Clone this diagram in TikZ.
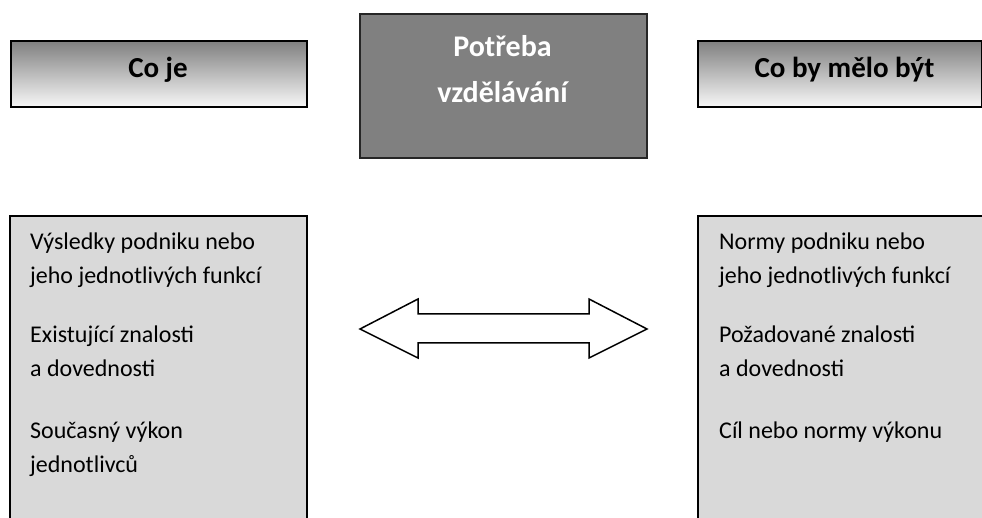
\documentclass[tikz,border=0pt]{standalone}
\usepackage{fontspec}
\setmainfont{Carlito}
\begin{document}
\begin{tikzpicture}[x=1pt,y=1pt,
  hdrbox/.style={draw=black,line width=1.8pt,top color=black!50,middle color=black!22,bottom color=black!3,inner sep=0pt,anchor=north west},
  centerbox/.style={draw=black!85,line width=1.8pt,fill=black!50,inner sep=0pt,anchor=north west},
  lowbox/.style={draw=black,line width=1.8pt,fill=black!15,inner sep=0pt,anchor=north west},
  hdrtext/.style={font=\fontsize{29}{34}\selectfont\bfseries,inner sep=0pt,anchor=base},
  ctrtext/.style={font=\fontsize{30}{34}\selectfont\bfseries,text=white,inner sep=0pt,anchor=base},
  bodytext/.style={font=\fontsize{24}{34}\selectfont,inner sep=0pt,anchor=base west},
  dblarrow/.style={draw=black,line width=1.5pt,fill=white,line join=miter}
]
\useasboundingbox (0,0) rectangle (982,-518);
\clip (0,0) rectangle (982,-518);
% header boxes
\node[hdrbox,minimum width=296pt,minimum height=66pt] (lefthdr) at (10,-40) {};
\node[hdrbox,minimum width=284pt,minimum height=66pt] (righthdr) at (697,-40) {};
\node[centerbox,minimum width=287pt,minimum height=144pt] (need) at (359,-13) {};
\node[hdrtext] (lefthdrtxt) at (158,-78) {Co je};
\node[hdrtext] (righthdrtxt) at (844.5,-78) {Co by mělo být};
\node[ctrtext] (needtxt1) at (502.5,-57) {Potřeba};
\node[ctrtext] (needtxt2) at (502.5,-103) {vzdělávání};
% lower boxes
\node[lowbox,minimum width=297pt,minimum height=330pt] (leftbox) at (9,-215) {};
\node[lowbox,minimum width=300pt,minimum height=330pt] (rightbox) at (697,-215) {};
% left texts
\node[bodytext] (l1a) at (30,-250) {Výsledky podniku nebo};
\node[bodytext] (l1b) at (30,-284) {jeho jednotlivých funkcí};
\node[bodytext] (l2a) at (30,-343) {Existující znalosti};
\node[bodytext] (l2b) at (30,-377) {a dovednosti};
\node[bodytext] (l3a) at (30,-438) {Současný výkon};
\node[bodytext] (l3b) at (30,-472) {jednotlivců};
% right texts
\node[bodytext] (r1a) at (719,-250) {Normy podniku nebo};
\node[bodytext] (r1b) at (719,-284) {jeho jednotlivých funkcí};
\node[bodytext] (r2a) at (719,-343) {Požadované znalosti};
\node[bodytext] (r2b) at (719,-377) {a dovednosti};
\node[bodytext] (r3a) at (719,-438) {Cíl nebo normy výkonu};
% double arrow
\draw[dblarrow] (360,-329) -- (418,-299) -- (418,-314) -- (589,-314) -- (589,-299) -- (647,-329)
  -- (589,-358) -- (589,-343) -- (418,-343) -- (418,-358) -- cycle;
\end{tikzpicture}
\end{document}
